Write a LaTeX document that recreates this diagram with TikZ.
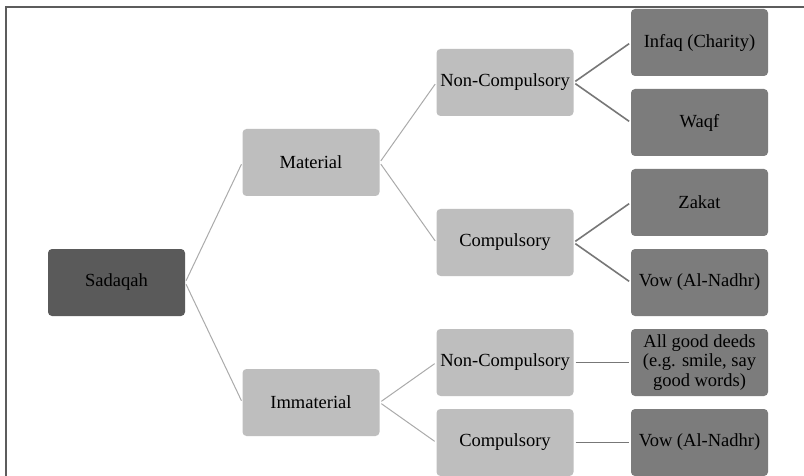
\documentclass[tikz,border=0pt]{standalone}
\usepackage{fontspec}
\setmainfont{Liberation Serif}
\definecolor{rootfill}{HTML}{5A5A5A}
\definecolor{midfill}{HTML}{BEBEBE}
\definecolor{leaffill}{HTML}{7C7C7C}
\definecolor{lightline}{HTML}{ABABAB}
\definecolor{darkline}{HTML}{777777}
\definecolor{framecol}{HTML}{5C5C5C}
\begin{document}
\begin{tikzpicture}[x=1pt,y=-1pt,
  box/.style={rounded corners=4pt, minimum width=137pt, minimum height=67pt, inner sep=2pt,
    font=\fontsize{18.5}{19.5}\selectfont, align=center, text=black},
  rootbox/.style={box, fill=rootfill},
  midbox/.style={box, fill=midfill},
  leafbox/.style={box, fill=leaffill},
  thinlink/.style={draw=lightline, line width=1pt, shorten <=2pt, shorten >=2pt},
  thicklink/.style={draw=darkline, line width=1.6pt, shorten <=2pt, shorten >=2pt}]
\useasboundingbox (0,0) rectangle (804,476);
\fill[white] (0,0) rectangle (804,476);
\coordinate (ftl) at (6,7);
\coordinate (ftr) at (804,7);
\coordinate (fbl) at (6,476);
\draw[framecol, line width=1.5pt] (ftr) -- (ftl) -- (fbl);

\node[rootbox] (sad) at (116.5,282.5) {Sadaqah};
\node[midbox] (mat) at (311,162.5) {Material};
\node[midbox] (imm) at (311,402.5) {Immaterial};
\node[midbox] (nc1) at (505,82.5) {Non-Compulsory};
\node[midbox] (c1) at (505,242.5) {Compulsory};
\node[midbox] (nc2) at (505,362.5) {Non-Compulsory};
\node[midbox] (c2) at (505,442.5) {Compulsory};
\node[leafbox] (inf) at (699.5,42.5) {Infaq (Charity)};
\node[leafbox] (waq) at (699.5,122.5) {Waqf};
\node[leafbox] (zak) at (699.5,202.5) {Zakat};
\node[leafbox] (vow1) at (699.5,282.5) {Vow (Al-Nadhr)};
\node[leafbox] (good) at (699.5,362.5) {All good deeds\\(e.g. smile, say\\good words)};
\node[leafbox] (vow2) at (699.5,442.5) {Vow (Al-Nadhr)};

\draw[thinlink] (sad.east) -- (mat.west);
\draw[thinlink] (sad.east) -- (imm.west);
\draw[thinlink] (mat.east) -- (nc1.west);
\draw[thinlink] (mat.east) -- (c1.west);
\draw[thinlink] (imm.east) -- (nc2.west);
\draw[thinlink] (imm.east) -- (c2.west);
\draw[thicklink] (nc1.east) -- (inf.west);
\draw[thicklink] (nc1.east) -- (waq.west);
\draw[thicklink] (c1.east) -- (zak.west);
\draw[thicklink] (c1.east) -- (vow1.west);
\draw[thicklink] (nc2.east) -- (good.west);
\draw[thicklink] (c2.east) -- (vow2.west);
\end{tikzpicture}
\end{document}
